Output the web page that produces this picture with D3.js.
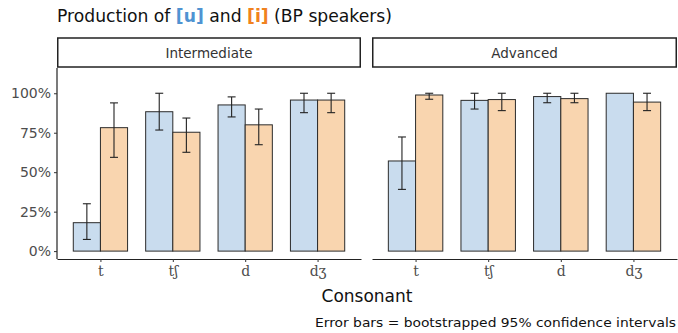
<!DOCTYPE html>
<html>
<head>
<meta charset="utf-8">
<script src="https://cdn.jsdelivr.net/npm/d3@7"></script>
<style>
  body { margin: 0; background: #fff; }
  svg { display: block; }
</style>
</head>
<body>
<div id="chart"></div>
<script>
// ---- data (proportions) ----
const panels = ["Intermediate", "Advanced"];
const consonants = ["t", "tʃ", "d", "dʒ"];
const vowels = ["u", "i"];

// mean, lower CI, upper CI per panel, consonant, vowel
const uMean  = [[0.18, 0.883, 0.926, 0.957], [0.571, 0.955, 0.979, 1.0]];
const uLow   = [[0.074, 0.767, 0.85, 0.877], [0.391, 0.90, 0.94, null]];
const uHigh  = [[0.30, 1.0, 0.977, 1.0],     [0.723, 1.0, 1.0, null]];
const iMean  = [[0.782, 0.753, 0.80, 0.957], [0.989, 0.96, 0.966, 0.944]];
const iLow   = [[0.594, 0.626, 0.674, 0.877], [0.962, 0.89, 0.94, 0.89]];
const iHigh  = [[0.939, 0.843, 0.90, 1.0],   [1.0, 1.0, 1.0, 1.0]];

const yTicks = [0, 0.25, 0.5, 0.75, 1];

(function () {
  "use strict";

  const W = 678, H = 333;
  const FONT = "'DejaVu Sans', 'Noto Sans', sans-serif";
  const IPA_FONT = "'DejaVu Serif', 'Liberation Serif', serif";
  const FILL = { u: "#c9dcee", i: "#f9d5af" };
  const TITLE_COL = { u: "#4f93d2", i: "#f0821e" };

  const svg = d3.select("#chart").append("svg")
    .attr("width", W).attr("height", H);

  // title with coloured vowels
  const title = svg.append("text")
    .attr("x", 57).attr("y", 22)
    .attr("font-family", FONT).attr("font-size", "17px").attr("fill", "#111");
  title.append("tspan").text("Production of ");
  title.append("tspan").attr("fill", TITLE_COL.u).attr("font-weight", "bold").text("[u]");
  title.append("tspan").text(" and ");
  title.append("tspan").attr("fill", TITLE_COL.i).attr("font-weight", "bold").text("[i]");
  title.append("tspan").text(" (BP speakers)");
  title.attr("textLength", 335).attr("lengthAdjust", "spacingAndGlyphs");

  // panel geometry
  const panelX = [[57, 361], [372, 677]];
  const stripTop = 38, stripBot = 68, plotBot = 259;

  const y = d3.scaleLinear().domain([-0.05, 1.16]).range([plotBot, stripBot]);

  // y axis (left panel only)
  const yAxis = d3.axisLeft(y).tickValues(yTicks)
    .tickFormat(d3.format(".0%")).tickSize(3).tickPadding(3);
  const ya = svg.append("g").attr("transform", `translate(${panelX[0][0]},0)`).call(yAxis);
  ya.select(".domain").attr("stroke", "#222").attr("stroke-width", 1.2)
    .attr("d", `M0,${plotBot}V${stripBot}`);
  ya.selectAll(".tick line").attr("stroke", "#333");
  ya.selectAll(".tick text").attr("font-family", FONT).attr("font-size", "14px").attr("fill", "#4d4d4d");

  panels.forEach((pName, p) => {
    const [x0, x1] = panelX[p];

    // strip
    svg.append("rect")
      .attr("x", x0 + 0.75).attr("y", stripTop)
      .attr("width", x1 - x0 - 1.5).attr("height", stripBot - stripTop - 1)
      .attr("fill", "#fff").attr("stroke", "#222").attr("stroke-width", 1.5);
    svg.append("text")
      .attr("x", (x0 + x1) / 2).attr("y", (stripTop + stripBot) / 2)
      .attr("dy", "0.35em").attr("text-anchor", "middle")
      .attr("font-family", FONT).attr("font-size", "13.5px").attr("fill", "#333")
      .text(pName);

    // discrete x scale with ggplot-like 0.6 expansion
    const x = d3.scalePoint().domain(consonants).range([x0, x1]).padding(0.6);
    const step = x.step();
    const xv = d3.scaleBand().domain(vowels).range([-0.375 * step, 0.375 * step]);

    const xAxis = d3.axisBottom(x).tickSize(3).tickPadding(4).tickSizeOuter(0);
    const xa = svg.append("g").attr("transform", `translate(0,${plotBot})`).call(xAxis);
    xa.select(".domain").attr("stroke", "#222").attr("stroke-width", 1.2);
    xa.selectAll(".tick line").attr("stroke", "#333");
    xa.selectAll(".tick text").attr("font-family", IPA_FONT)
      .attr("font-size", "14px").attr("fill", "#4d4d4d");

    const rows = [];
    consonants.forEach((c, ci) => {
      rows.push({ c, v: "u", m: uMean[p][ci], lo: uLow[p][ci], hi: uHigh[p][ci] });
      rows.push({ c, v: "i", m: iMean[p][ci], lo: iLow[p][ci], hi: iHigh[p][ci] });
    });

    const g = svg.append("g");
    g.selectAll("rect.bar").data(rows).enter().append("rect")
      .attr("class", "bar")
      .attr("x", d => x(d.c) + xv(d.v))
      .attr("y", d => y(d.m))
      .attr("width", xv.bandwidth())
      .attr("height", d => y(0) - y(d.m))
      .attr("fill", d => FILL[d.v])
      .attr("stroke", "#2b2b2b").attr("stroke-width", 1);

    const cap = 0.055 * step;
    const eb = g.selectAll("g.eb").data(rows.filter(d => d.lo != null)).enter().append("g")
      .attr("class", "eb")
      .attr("stroke", "#222").attr("stroke-width", 1.1);
    const cx = d => x(d.c) + xv(d.v) + xv.bandwidth() / 2;
    eb.append("line").attr("x1", cx).attr("x2", cx)
      .attr("y1", d => y(d.lo)).attr("y2", d => y(d.hi));
    eb.append("line").attr("x1", d => cx(d) - cap).attr("x2", d => cx(d) + cap)
      .attr("y1", d => y(d.lo)).attr("y2", d => y(d.lo));
    eb.append("line").attr("x1", d => cx(d) - cap).attr("x2", d => cx(d) + cap)
      .attr("y1", d => y(d.hi)).attr("y2", d => y(d.hi));
  });

  // axis title
  svg.append("text")
    .attr("x", (panelX[0][0] + panelX[1][1]) / 2).attr("y", 302)
    .attr("text-anchor", "middle")
    .attr("font-family", FONT).attr("font-size", "17px").attr("fill", "#111")
    .text("Consonant");

  // caption
  svg.append("text")
    .attr("x", 676).attr("y", 327)
    .attr("text-anchor", "end")
    .attr("font-family", FONT).attr("font-size", "13px").attr("fill", "#111")
    .attr("textLength", 361).attr("lengthAdjust", "spacingAndGlyphs")
    .text("Error bars = bootstrapped 95% confidence intervals");
})();
</script>
</body>
</html>
